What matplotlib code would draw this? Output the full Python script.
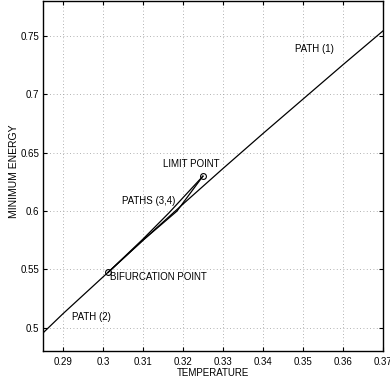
import numpy as np
import matplotlib.pyplot as plt
from matplotlib import font_manager

# data
path12_t = [0.285, 0.290, 0.300, 0.310, 0.320, 0.330, 0.340, 0.350, 0.360, 0.370]
path12_e = [0.4955, 0.5120, 0.5435, 0.5750, 0.6060, 0.6365, 0.6665, 0.6960, 0.7255, 0.7545]

path3_t = [0.3013, 0.3100, 0.3165, 0.3250]
path3_e = [0.5475, 0.5760, 0.5985, 0.6300]
path4_t = [0.3013, 0.3100, 0.3185, 0.3250]
path4_e = [0.5475, 0.5750, 0.6000, 0.6300]

bif_pt = (0.3013, 0.5475)
lim_pt = (0.3250, 0.6300)

xticks = [0.29, 0.30, 0.31, 0.32, 0.33, 0.34, 0.35, 0.36, 0.37]
xticklabels = ['0.29', '0.3', '0.31', '0.32', '0.33', '0.34', '0.35', '0.36', '0.37']
yticks = [0.5, 0.55, 0.6, 0.65, 0.7, 0.75]
yticklabels = ['0.5', '0.55', '0.6', '0.65', '0.7', '0.75']

names = {f.name for f in font_manager.fontManager.ttflist}
fam = 'Liberation Sans Narrow' if 'Liberation Sans Narrow' in names else 'Liberation Sans'
plt.rcParams['font.family'] = [fam, 'DejaVu Sans']
fs = 7

fig = plt.figure(figsize=(3.9, 3.85), dpi=100)
ax = fig.add_axes([0.110, 0.088, 0.872, 0.909])

ax.plot(path12_t, path12_e, color='black', lw=0.9)
ax.plot(path3_t, path3_e, color='black', lw=0.9)
ax.plot(path4_t, path4_e, color='black', lw=0.9)
ax.plot([bif_pt[0], lim_pt[0]], [bif_pt[1], lim_pt[1]], ls='none', marker='o',
        ms=4.2, mfc='none', mec='black', mew=0.8)

ax.set_xlim(0.285, 0.37)
ax.set_ylim(0.48, 0.78)
ax.set_xticks(xticks)
ax.set_xticklabels(xticklabels)
ax.set_yticks(yticks)
ax.set_yticklabels(yticklabels)
ax.tick_params(direction='in', top=True, right=True, labelsize=fs, length=3,
               width=0.8, pad=4)
ax.tick_params(axis='y', pad=2.5)
ax.grid(True, color='#999999', ls=(0, (1, 3)), lw=0.6)
for s in ax.spines.values():
    s.set_linewidth(1.0)

ax.text(0.315, 0.6402, 'LIMIT POINT', fontsize=fs, va='center', ha='left')
ax.text(0.3048, 0.6090, 'PATHS (3,4)', fontsize=fs, va='center', ha='left')
ax.text(0.3018, 0.5435, 'BIFURCATION POINT', fontsize=fs, va='center', ha='left')
ax.text(0.2922, 0.5093, 'PATH (2)', fontsize=fs, va='center', ha='left')
ax.text(0.3480, 0.7390, 'PATH (1)', fontsize=fs, va='center', ha='left')

ax.set_xlabel('TEMPERATURE', fontsize=fs, labelpad=1)
ax.set_ylabel('MINIMUM ENERGY', fontsize=7.5)
ax.yaxis.set_label_coords(-0.07, 0.515)

fig.savefig('out.png', dpi=100)
